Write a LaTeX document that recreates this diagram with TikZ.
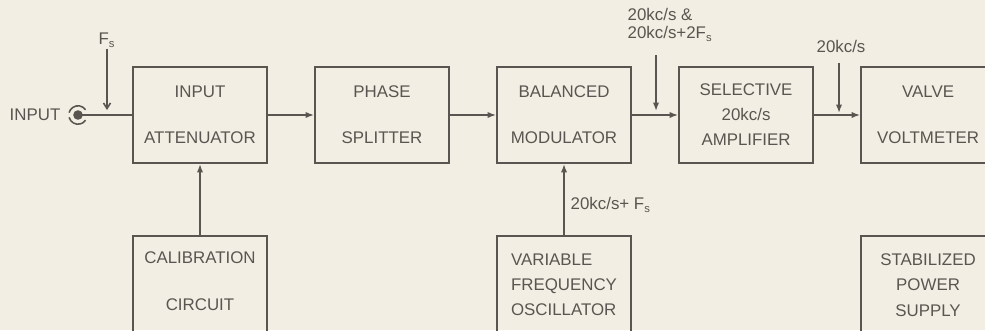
\documentclass[tikz,border=0pt]{standalone}
\usepackage{fontspec}
\setsansfont{Liberation Sans}
\usetikzlibrary{arrows.meta, positioning}
\definecolor{inkgrey}{HTML}{5A5550}
\definecolor{paper}{HTML}{F3EEE3}

\begin{document}
\begin{tikzpicture}[
    x=0.025cm, y=-0.025cm,
    node distance=1.15cm,
    blk/.style={rectangle, draw=inkgrey, line width=1.4pt, text=inkgrey,
        minimum width=3.35cm, minimum height=2.4cm, align=center,
        font=\sffamily\fontsize{12}{13}\selectfont, inner sep=2pt},
    lowblk/.style={blk, minimum height=2.9cm},
    lbl/.style={text=inkgrey, font=\sffamily\fontsize{12}{13}\selectfont, inner sep=1pt},
    arr/.style={-{Latex[length=6pt, width=4.5pt]}, line width=1.1pt, inkgrey},
    tap/.style={-{Straight Barb[length=4pt, width=5pt]}, line width=1.1pt, inkgrey},
    wire/.style={line width=1.1pt, inkgrey}
]
    \path[use as bounding box] (0,0) rectangle (985,330);
    \clip (0,0) rectangle (985,330);
    \fill[paper] (0,0) rectangle (985,330);

    % main chain
    \node[blk] (att) at (200,115) {INPUT\\[0.7cm]ATTENUATOR};
    \node[blk, right=of att] (ps) {PHASE\\[0.7cm]SPLITTER};
    \node[blk, right=of ps] (mod) {BALANCED\\[0.7cm]MODULATOR};
    \node[blk, right=of mod] (sel) {SELECTIVE\\[0.17cm]20kc/s\\[0.17cm]AMPLIFIER};
    \node[blk, right=of sel] (vv) {VALVE\\[0.7cm]VOLTMETER};

    % lower row
    \node[lowblk, below=1.78cm of att] (cal) {CALIBRATION\\[0.7cm]CIRCUIT\\[0.2cm]\mbox{}};
    \node[lowblk, below=1.78cm of mod, align=left] (vfo) {VARIABLE\\[0.17cm]FREQUENCY\\[0.17cm]OSCILLATOR\\\mbox{}};
    \node[lowblk, below=1.78cm of vv] (psu) {STABILIZED\\[0.17cm]POWER\\[0.17cm]SUPPLY\\\mbox{}};

    % input socket
    \coordinate (jack) at (78,115);
    \node[lbl, anchor=east] (inlbl) at (62,115) {INPUT};
    \draw[wire] (jack) -- (att.west);
    \fill[inkgrey] (jack) circle[radius=0.12cm];
    \draw[wire] (jack) ++(35:0.23cm) arc[start angle=35, end angle=165, radius=0.23cm];
    \draw[wire] (jack) ++(195:0.23cm) arc[start angle=195, end angle=325, radius=0.23cm];

    % labels
    \node[lbl] (fs) at (107,40) {F\textsubscript{s}};
    \node[lbl, anchor=west, align=left] (mix) at (626,25) {20kc/s \&\\20kc/s+2F\textsubscript{s}};
    \node[lbl] (carrier) at (841,46) {20kc/s};
    \node[lbl, anchor=west] (vfolbl) at (569,205) {20kc/s+ F\textsubscript{s}};

    \coordinate (fstip) at (107,110);
    \coordinate (mixtop) at (656,55);
    \coordinate (mixtip) at (656,111);
    \coordinate (cartop) at (839,63);
    \coordinate (cartip) at (839,113);

    \foreach \a/\b in {att/ps, ps/mod, mod/sel, sel/vv}
        \draw[arr] (\a) -- (\b);
    \draw[arr] (cal) -- (att);
    \draw[arr] (vfo) -- (mod);
    \draw[tap] (fs) -- (fstip);
    \draw[arr] (mixtop) -- (mixtip);
    \draw[arr] (cartop) -- (cartip);
\end{tikzpicture}
\end{document}
